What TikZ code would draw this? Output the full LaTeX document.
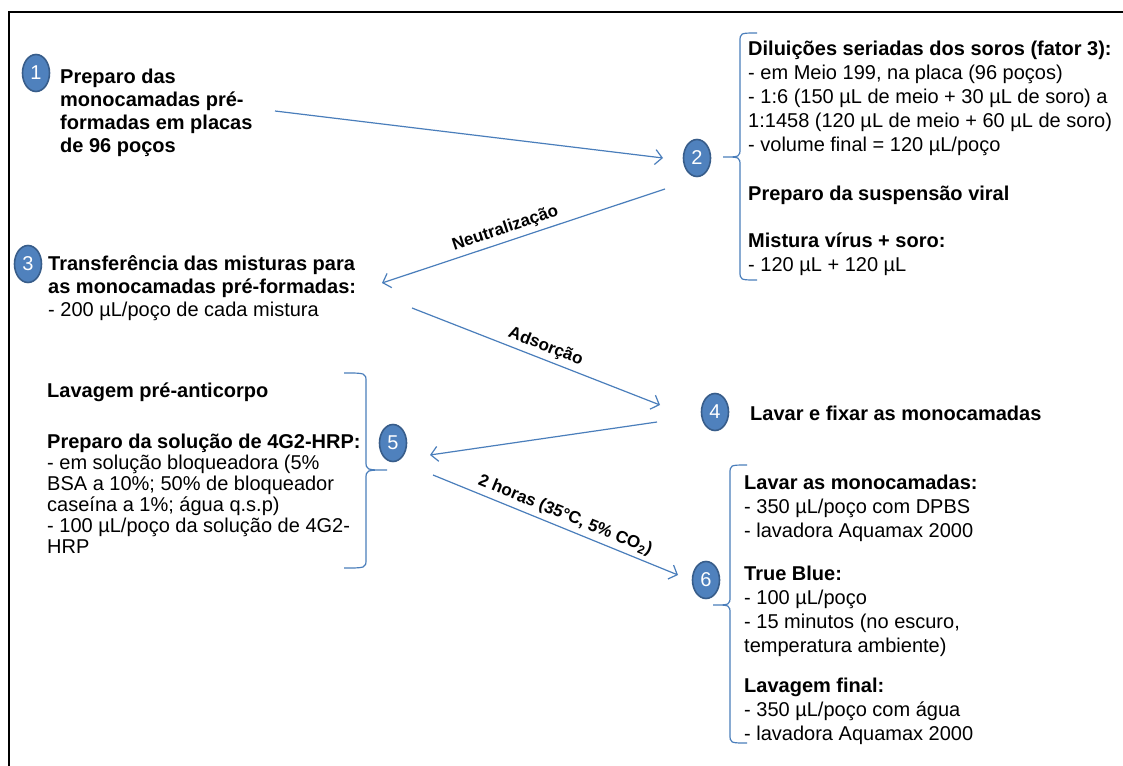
\documentclass[tikz,border=0pt]{standalone}
\usepackage{fontspec}
\setmainfont{Liberation Sans}
\usetikzlibrary{arrows.meta,shapes.geometric}

\definecolor{stepfill}{RGB}{79,129,189}
\definecolor{stepedge}{RGB}{56,93,138}
\definecolor{linkblue}{RGB}{74,126,187}

% curly brace: x of spine, top, tip, bottom, tip depth, end reach
\newcommand\lbracedraw[6]{%
  \draw[bracestyle] ({#1+(#6)},#2) .. controls (#1,#2) .. (#1,{#2+9})
    -- (#1,{#3-9}) .. controls (#1,#3) .. ({#1-(#5)},#3)
    .. controls (#1,#3) .. (#1,{#3+9})
    -- (#1,{#4-9}) .. controls (#1,#4) .. ({#1+(#6)},#4);}

\begin{document}
\begin{tikzpicture}[x=1pt,y=-1pt,
  stepnum/.style={ellipse, fill=stepfill, draw=stepedge, line width=1.6pt,
    minimum width=27pt, minimum height=37pt, inner sep=0pt,
    text=white, font=\fontsize{20}{24}\selectfont},
  % text blocks are placed by the baseline of their last line
  txt/.style={anchor=base west, align=left, inner sep=0pt,
    font=\fontsize{20}{24}\selectfont},
  link/.style={draw=linkblue, line width=1.2pt,
    -{Straight Barb[length=7pt,width=15pt,line width=1.2pt]}},
  linklabel/.style={font=\bfseries\fontsize{17}{20}\selectfont, sloped, above,
    inner sep=4pt},
  bracestyle/.style={draw=linkblue, line width=1.2pt}]

\useasboundingbox (0,0) rectangle (1123,765);
\fill[white] (0,0) rectangle (1123,765);

% frame
\draw[line width=1.8pt] (9,766) -- (9,12) -- (1124,12);

% step markers
\node[stepnum] (c1) at (36,73) {1};
\node[stepnum] (c2) at (697,158) {2};
\node[stepnum] (c3) at (28,264) {3};
\node[stepnum] (c4) at (715,412) {4};
\node[stepnum] (c5) at (393,443) {5};
\node[stepnum] (c6) at (706,580) {6};

% step 1
\node[txt, font=\bfseries\fontsize{20}{23}\selectfont] (t1) at (60,152) {Preparo das\\monocamadas pré-\\formadas em placas\\de 96 poços};

% step 2
\node[txt] (t2a) at (748,151) {\textbf{Diluições seriadas dos soros (fator 3):}\\
- em Meio 199, na placa (96 poços)\\
- 1:6 (150 µL de meio + 30 µL de soro) a\\
1:1458 (120 µL de meio + 60 µL de soro)\\
- volume final = 120 µL/poço};
\node[txt] (t2b) at (748,200) {\textbf{Preparo da suspensão viral}};
\node[txt] (t2c) at (748,271) {\textbf{Mistura vírus + soro:}\\
- 120 µL + 120 µL};

% step 3
\node[txt, font=\fontsize{20}{23}\selectfont] (t3) at (48,316) {\textbf{Transferência das misturas para}\\
\textbf{as monocamadas pré-formadas:}\\
- 200 µL/poço de cada mistura};

% step 4
\node[txt] (t4) at (750,420) {\textbf{Lavar e fixar as monocamadas}};

% step 5
\node[txt] (t5a) at (47,397) {\textbf{Lavagem pré-anticorpo}};
\node[txt, font=\fontsize{20}{21}\selectfont] (t5b) at (47,553) {\textbf{Preparo da solução de 4G2-HRP:}\\
- em solução bloqueadora (5\%\\
BSA a 10\%; 50\% de bloqueador\\
caseína a 1\%; água q.s.p)\\
- 100 µL/poço da solução de 4G2-\\
HRP};

% step 6
\node[txt] (t6a) at (744,537) {\textbf{Lavar as monocamadas:}\\
- 350 µL/poço com DPBS\\
- lavadora Aquamax 2000};
\node[txt] (t6b) at (744,652) {\textbf{True Blue:}\\
- 100 µL/poço\\
- 15 minutos (no escuro,\\
temperatura ambiente)};
\node[txt] (t6c) at (744,740) {\textbf{Lavagem final:}\\
- 350 µL/poço com água\\
- lavadora Aquamax 2000};

% braces
\lbracedraw{740}{33}{157}{280}{17}{17}
\lbracedraw{730}{465}{605}{743}{17}{17}
\lbracedraw{366}{373}{470}{568}{-21}{-22}

% connector end points
\coordinate (a12s) at (275,111);
\coordinate (a12e) at (663,158);
\coordinate (a23s) at (665,189);
\coordinate (a23e) at (382,283);
\coordinate (a34s) at (412,308);
\coordinate (a34e) at (660,405);
\coordinate (a45s) at (657,422);
\coordinate (a45e) at (430,455);
\coordinate (a56s) at (433,475);
\coordinate (a56e) at (678,575);

% connectors
\draw[link] (a12s) -- (a12e);
\draw[link] (a23s) -- node[linklabel, pos=0.55] {Neutralização} (a23e);
\draw[link] (a34s) -- node[linklabel, pos=0.52] {Adsorção} (a34e);
\draw[link] (a45s) -- (a45e);
\draw[link] (a56s) -- node[linklabel, pos=0.52] {2 horas (35°C, 5\% CO\textsubscript{2})} (a56e);

\end{tikzpicture}
\end{document}
